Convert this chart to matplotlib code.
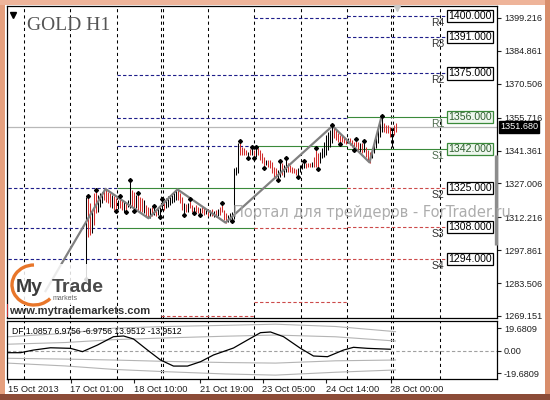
import numpy as np
import matplotlib.pyplot as plt
import matplotlib.transforms as mtransforms
from matplotlib.patches import Rectangle, Arc

plt.rcParams['font.family'] = ['Liberation Sans', 'DejaVu Sans']

##---- H1 bars, index 0 = first visible bar ----##
high = [1320.9, 1320.9, 1318.3, 1315.4, 1322.7, 1323.7, 1322.0, 1322.7, 1323.4, 1324.4,
        1324.4, 1323.4, 1322.7, 1322.0, 1321.5, 1320.5, 1319.8, 1320.9, 1319.8, 1319.1,
        1318.3, 1319.8, 1327.8, 1324.1, 1323.4, 1322.0, 1322.4, 1321.2, 1320.5, 1319.8,
        1317.6, 1316.9, 1316.1, 1316.9, 1316.6, 1315.7, 1316.1, 1316.9, 1319.8, 1319.1,
        1320.5, 1321.5, 1322.0, 1322.7, 1323.4, 1324.1, 1324.4, 1322.7, 1321.2, 1318.3,
        1318.0, 1318.3, 1319.8, 1317.6, 1316.9, 1317.6, 1316.9, 1316.1, 1316.6, 1316.1,
        1316.0, 1315.7, 1315.4, 1315.7, 1315.1, 1315.4, 1316.0, 1316.9, 1317.9, 1315.4,
        1313.9, 1313.2, 1313.9, 1314.7, 1333.6, 1334.3, 1344.5, 1345.2, 1343.1, 1342.3,
        1341.6, 1340.9, 1341.9, 1342.3, 1341.6, 1342.3, 1342.3, 1341.6, 1340.1, 1338.7,
        1337.2, 1337.2, 1337.2, 1336.5, 1334.3, 1333.6, 1332.9, 1336.5, 1335.8, 1335.1,
        1337.5, 1335.8, 1335.1, 1334.3, 1333.6, 1333.2, 1333.6, 1335.1, 1335.8, 1336.5,
        1335.8, 1335.8, 1335.8, 1336.5, 1338.7, 1341.9, 1340.1, 1340.9, 1342.3, 1345.2,
        1348.1, 1349.6, 1350.3, 1352.1, 1351.8, 1350.3, 1348.9, 1348.1, 1347.7, 1347.4,
        1346.7, 1346.7, 1346.7, 1346.0, 1345.2, 1346.0, 1345.2, 1344.5, 1344.5, 1345.2,
        1343.1, 1341.6, 1340.9, 1342.3, 1346.0, 1347.4, 1350.3, 1353.2, 1356.1, 1353.2,
        1352.5, 1352.5, 1351.8, 1351.1, 1352.5, 1353.2]
low = [1285.6, 1303.8, 1304.5, 1305.2, 1308.9, 1313.9, 1314.7, 1316.9, 1318.3, 1319.8,
       1319.1, 1318.3, 1316.9, 1316.1, 1315.4, 1315.4, 1315.7, 1316.1, 1315.4, 1314.7,
       1315.1, 1316.9, 1316.1, 1316.9, 1315.4, 1316.1, 1315.4, 1314.7, 1314.7, 1313.9,
       1312.5, 1311.8, 1311.8, 1312.8, 1313.2, 1312.8, 1313.2, 1313.0, 1315.4, 1315.4,
       1316.1, 1316.9, 1317.6, 1318.3, 1319.1, 1319.8, 1319.8, 1318.3, 1315.4, 1313.7,
       1314.7, 1314.7, 1316.1, 1314.7, 1314.5, 1314.7, 1313.9, 1313.7, 1313.9, 1313.2,
       1313.7, 1312.8, 1312.8, 1313.0, 1312.5, 1312.5, 1312.8, 1313.2, 1314.7, 1311.0,
       1309.9, 1310.3, 1311.0, 1311.3, 1311.3, 1330.7, 1331.4, 1339.4, 1339.4, 1339.4,
       1339.4, 1338.7, 1339.4, 1339.4, 1338.4, 1338.7, 1339.4, 1337.2, 1335.8, 1334.3,
       1335.1, 1334.3, 1333.6, 1331.4, 1330.0, 1329.2, 1328.8, 1330.0, 1330.7, 1330.0,
       1332.1, 1332.1, 1332.1, 1331.4, 1331.4, 1330.7, 1330.5, 1332.1, 1333.2, 1333.6,
       1333.6, 1334.3, 1334.0, 1334.0, 1334.3, 1334.3, 1333.6, 1335.8, 1338.0, 1338.7,
       1339.4, 1341.6, 1343.1, 1344.5, 1346.7, 1346.0, 1345.2, 1344.5, 1345.2, 1344.5,
       1344.2, 1344.5, 1343.8, 1343.1, 1341.9, 1343.1, 1341.6, 1340.9, 1340.1, 1340.9,
       1338.7, 1337.2, 1336.1, 1338.0, 1340.1, 1342.3, 1344.5, 1347.4, 1349.6, 1349.6,
       1348.9, 1349.2, 1347.4, 1343.1, 1348.1, 1349.6]
# b = bull bar (black), r = bear bar (red)
bar_dir = ("brrbrrbbbr" "rrrbrrbrrb" "rbbrrbrrrb" "rrbrbrbbbr" "bbbbbbrrrb"
           "rbrrbrrbrr" "brbrbrbrrr" "rbbbbbbrrr" "rbrbrbrrrr" "brrrrrbbrb"
           "brrrrrbbbb" "rrrbrrrbbb" "bbbbrrrrrr" "rbrrrrrbrb" "rrrbbbbbbr"
           "rrrbrr")

up_fractals = [1, 5, 17, 22, 26, 34, 38, 52, 68, 77, 83, 85, 97, 100, 109, 115, 123, 135, 139, 148]
down_fractals = [0, 15, 20, 24, 37, 49, 54, 57, 73, 81, 84, 89, 96, 106, 116, 127, 134]

zigzag_x = [-20, 10, 31.5, 46, 70, 123.5, 142, 148]
zigzag_y = [1280.0, 1324.6, 1311.8, 1324.4, 1309.9, 1352.1, 1336.2, 1356.1]

##---- pivot levels ----##
level_names = ['R4', 'R3', 'R2', 'R1', 'S1', 'S2', 'S3', 'S4']
level_values = [1400, 1391, 1375, 1356, 1342, 1325, 1308, 1294]
level_kind = ['n', 'n', 'n', 'g', 'g', 'r', 'r', 'r']
# previous periods: (start bar, end bar, price, kind)
old_levels = [(-39, 15.5, 1325.0, 'n'), (-39, 15.5, 1307.6, 'n'), (-39, 15.5, 1294.0, 'n'),
              (15.5, 84, 1374.3, 'n'), (15.5, 84, 1355.6, 'n'), (15.5, 84, 1343.3, 'n'),
              (15.5, 84, 1325.0, 'g'), (15.5, 84, 1307.6, 'g'), (15.5, 84, 1294.0, 'r'),
              (37.5, 84, 1269.1, 'r'),
              (84, 130.5, 1399.2, 'n'), (84, 130.5, 1374.3, 'n'), (84, 130.5, 1355.6, 'n'),
              (84, 130.5, 1343.3, 'g'), (84, 130.5, 1325.0, 'g'), (84, 130.5, 1307.6, 'r'),
              (84, 130.5, 1294.0, 'r'), (84, 130.5, 1275.2, 'r')]
current_start = 130.5
current_end = 181.5

price_ticks = [1399.216, 1384.861, 1370.506, 1355.716, 1341.361,
               1327.006, 1312.216, 1297.861, 1283.506, 1269.151]
last_price = 1351.680

time_pos = [-39, -7.5, 24, 57, 88.5, 120, 152.5]
time_labels = ['15 Oct 2013', '17 Oct 01:00', '18 Oct 10:00', '21 Oct 19:00',
               '23 Oct 05:00', '24 Oct 14:00', '28 Oct 00:00']
grid_x = [-31, -8, 15.5, 37.5, 38.5, 61, 84, 107.5, 130.5, 152.5, 153.5, 177]

##---- DF indicator ----##
df_x = [-39, -32.5, -26, -17.5, -7.5, -1.5, 6, 14, 19, 24, 31, 37.5, 44, 51,
        57.5, 64, 74, 81, 87.5, 92.5, 99, 107.5, 114, 121, 129, 134, 141, 152.5]
df_y = [-1.9, -1.9, 0.4, 2.4, 1.9, -1.0, 4.8, 12.1, 12.7, 10.1, 0.4, -8.3, -13.6, -13.6,
        -9.8, -3.9, 2.2, 9.2, 15.6, 16.2, 12.1, 1.9, -4.8, -5.4, 0.4, 2.8, 1.9, 1.1]
band_x = [-39, -10, 14, 40, 70, 95, 125, 155]
outer_up = [12, 15, 19.5, 21, 22, 23, 21, 16.5]
inner_up = [5.5, 7, 9.5, 11, 12.5, 13.5, 12, 8.3]
inner_dn = [-6.8, -7.5, -8.3, -9.5, -10.5, -11, -9, -8.3]
outer_dn = [-11, -13.5, -16.5, -18.5, -20.5, -21.5, -19, -17]
df_ticks = [19.6809, 0.0, -19.6809]
df_ticklabels = ['19.6809', '0.00', '-19.6809']

colors = {'n': '#1e1e8a', 'g': '#3a8a3a', 'r': '#cc4a4a'}
styles = {'n': (0, (3, 2)), 'g': '-', 'r': (0, (3, 2))}

fig = plt.figure(figsize=(5.5, 4), dpi=100)
fig.patch.set_facecolor('white')
ax = fig.add_axes([7/550, 82/400, 490/550, 312/400])
ind = fig.add_axes([7/550, 21/400, 490/550, 58/400])

##---- main panel ----##
ax.set_xlim(-39.25, 205.75)
ax.set_ylim(1268.27, 1404.45)
for gx in grid_x:
    ax.axvline(gx, color='black', lw=0.75, ls=(0, (3, 3)), zorder=1)
    ind.axvline(gx, color='black', lw=0.75, ls=(0, (3, 3)), zorder=1)

ax.axhline(last_price, color='#b8b8b8', lw=0.9, zorder=1)

for x0, x1, p, k in old_levels:
    ax.hlines(p, x0, x1, colors=colors[k], linestyles=styles[k], lw=0.8, zorder=2)
for name, p, k in zip(level_names, level_values, level_kind):
    ax.hlines(p, current_start, current_end, colors=colors[k], linestyles=styles[k], lw=0.8, zorder=2)
    if k == 'g':
        ax.text(current_end, p, '%.3f' % p, fontsize=7.6, color='#2f5f2f', va='center', ha='left',
                bbox=dict(boxstyle='square,pad=0.12', fc='#eef7ee', ec='#3a8a3a', lw=0.9), zorder=6)
        tc = '#4d6b4d'
    else:
        ax.text(current_end, p, '%.3f' % p, fontsize=7.6, color='black', va='center', ha='left',
                bbox=dict(boxstyle='square,pad=0.12', fc='white', ec='black', lw=0.9), zorder=6)
        tc = '#333333'
    ax.text(176, p - 3.0, name, fontsize=7.5, color=tc, ha='center', va='center', zorder=6)

idx = np.arange(len(high))
bar_col = ['black' if d == 'b' else '#d02c2c' for d in bar_dir]
ax.vlines(idx, low, high, colors=bar_col, lw=0.75, zorder=3)

ax.plot(zigzag_x, zigzag_y, color='#808080', lw=1.6, zorder=4)

hi = np.array(high)
lo = np.array(low)
ax.plot(up_fractals, hi[up_fractals] + 0.5, ls='none', marker='D', ms=2.0, color='black', zorder=5)
ax.plot(down_fractals, lo[down_fractals] - 0.5, ls='none', marker='D', ms=2.0, color='black', zorder=5)

tr = mtransforms.blended_transform_factory(ax.transAxes, ax.transData)
ax.plot([0.998, 0.998], [1339.4, 1300.1], transform=tr, color='#8c8c8c', lw=2.4,
        solid_capstyle='butt', zorder=6, clip_on=False)
ax.text(1.006, last_price, '%.3f' % last_price, transform=tr, fontsize=6.6, color='white',
        va='center', ha='left', zorder=7,
        bbox=dict(boxstyle='square,pad=0.15', fc='black', ec='black'))

ax.yaxis.tick_right()
ax.set_yticks(price_ticks)
ax.set_yticklabels(['%.3f' % t for t in price_ticks])
ax.tick_params(axis='y', labelsize=6.6, length=3, width=0.8, pad=2, colors='#202020')
ax.set_xticks([])
for s in ax.spines.values():
    s.set_linewidth(0.9)

##---- indicator panel ----##
ind.set_xlim(-39.25, 205.75)
ind.set_ylim(-24.9, 25.8)
ind.axhline(0, color='#a0a0a0', lw=0.8, ls=(0, (3, 2)), zorder=2)
for band in (outer_up, inner_up, inner_dn, outer_dn):
    ind.plot(band_x, band, color='#b4b4b4', lw=0.8, zorder=2)
ind.plot(df_x, df_y, color='black', lw=0.9, zorder=3)
ind.text(0.01, 0.82, 'DF 1.0857 6.9756 -6.9756 13.9512 -13.9512', transform=ind.transAxes,
         fontsize=6.2, color='black', va='center', ha='left', zorder=5)
ind.yaxis.tick_right()
ind.set_yticks(df_ticks)
ind.set_yticklabels(df_ticklabels)
ind.tick_params(axis='y', labelsize=6.6, length=3, width=0.8, pad=2, colors='#202020')
ind.set_xticks(time_pos)
ind.set_xticklabels(time_labels)
ind.tick_params(axis='x', labelsize=6.7, length=3, width=0.8, pad=1.5, colors='#202020')
for lab in ind.get_xticklabels():
    lab.set_ha('left')
for s in ind.spines.values():
    s.set_linewidth(0.9)

##---- overlay in pixel coordinates ----##
ov = fig.add_axes([0, 0, 1, 1], zorder=10)
ov.set_xlim(0, 550)
ov.set_ylim(400, 0)
ov.axis('off')
ov.patch.set_alpha(0)

ov.add_patch(Rectangle((0, 0), 5, 400, color='#e6a07e', lw=0))
ov.add_patch(Rectangle((0, 0), 550, 5, color='#eeb49a', lw=0))
ov.add_patch(Rectangle((545, 0), 5, 400, color='#d98e6c', lw=0))
ov.add_patch(Rectangle((0, 394), 550, 6, color='#8c4c38', lw=0))

ov.text(27, 26, 'GOLD H1', family='Liberation Serif', fontsize=14, color='#555555', va='center')
ov.plot([13], [15], marker='v', ms=4.5, color='black')
ov.plot([397], [8], marker='v', ms=5, color='#c8c8c8')

# logo
ov.add_patch(Rectangle((12, 264), 98, 41, color='white', alpha=0.85, lw=0))
ov.add_patch(Arc((34, 285), 44, 40, theta1=40, theta2=270, color='#e8762a', lw=2.4))
ov.text(16, 288, 'My', fontsize=14, fontweight='bold', color='#3b3b3b', va='center')
ov.text(52, 288, 'Trade', fontsize=14, fontweight='bold', color='#4a4a4a', va='center')
ov.text(53, 299, 'markets', fontsize=5, color='#666666', va='center')
ov.add_patch(Rectangle((6.5, 304), 1.5, 13, color='#c83030', lw=0))
ov.text(9, 311, 'www.mytrademarkets.com', fontsize=8, fontweight='bold', color='#333333', va='center')

ov.text(233, 212, 'Портал для трейдеров - ForTrader.ru', family='DejaVu Sans', fontsize=10.5,
        color='#a4a4a4', va='center', alpha=0.9)

plt.savefig('out.png', dpi=100)
